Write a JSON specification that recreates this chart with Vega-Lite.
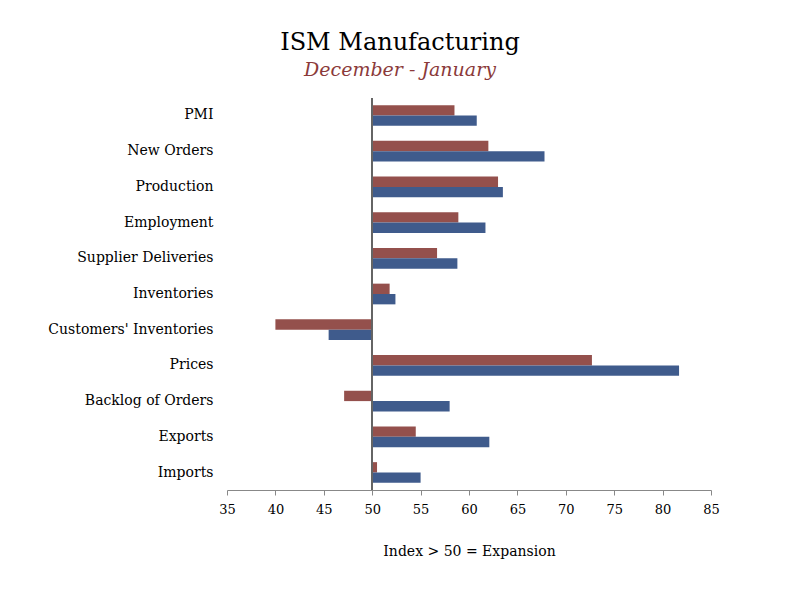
{
"$schema":"https://vega.github.io/schema/vega-lite/v6.json",
"width":484,"height":392,
"autosize":{"type":"none"},
"padding":{"left":227,"top":98,"right":89,"bottom":110},
"background":"white",
"title":{"text":"ISM Manufacturing","subtitle":"December  -  January","font":"DejaVu Serif","fontSize":24,"fontWeight":"normal","color":"#000","subtitleFont":"DejaVu Serif","subtitleFontSize":19,"subtitleFontStyle":"italic","subtitleColor":"#8B3A3A","subtitlePadding":6,"anchor":"middle","dx":-69,"offset":18},
"data":{"values":[
{"cat":"PMI","s":"December","v":58.5},{"cat":"PMI","s":"January","v":60.8},
{"cat":"New Orders","s":"December","v":62.0},{"cat":"New Orders","s":"January","v":67.8},
{"cat":"Production","s":"December","v":63.0},{"cat":"Production","s":"January","v":63.5},
{"cat":"Employment","s":"December","v":58.9},{"cat":"Employment","s":"January","v":61.7},
{"cat":"Supplier Deliveries","s":"December","v":56.7},{"cat":"Supplier Deliveries","s":"January","v":58.8},
{"cat":"Inventories","s":"December","v":51.8},{"cat":"Inventories","s":"January","v":52.4},
{"cat":"Customers' Inventories","s":"December","v":40.0},{"cat":"Customers' Inventories","s":"January","v":45.5},
{"cat":"Prices","s":"December","v":72.7},{"cat":"Prices","s":"January","v":81.7},
{"cat":"Backlog of Orders","s":"December","v":47.1},{"cat":"Backlog of Orders","s":"January","v":58.0},
{"cat":"Exports","s":"December","v":54.5},{"cat":"Exports","s":"January","v":62.1},
{"cat":"Imports","s":"December","v":50.5},{"cat":"Imports","s":"January","v":55.0}
]},
"layer":[
{"mark":{"type":"bar"},
"encoding":{
"y":{"field":"cat","type":"nominal","sort":null,"scale":{"paddingInner":0.42,"paddingOuter":0.2},
"axis":{"title":null,"domain":false,"ticks":false,"labelFont":"DejaVu Serif","labelFontSize":14,"labelColor":"#000","labelPadding":14}},
"yOffset":{"field":"s","type":"nominal","sort":["December","January"]},
"x":{"field":"v","type":"quantitative","scale":{"domain":[35,85],"nice":false,"zero":false},
"axis":{"values":[35,40,45,50,55,60,65,70,75,80,85],"grid":false,"labelFlush":false,"title":"Index > 50 = Expansion","titleFont":"DejaVu Serif","titleFontSize":14,"titleFontWeight":"normal","titleColor":"#000","titlePadding":28,"labelFont":"DejaVu Serif","labelFontSize":13,"labelColor":"#000","domainColor":"#888","tickColor":"#888","labelPadding":8}},
"x2":{"datum":50},
"color":{"field":"s","type":"nominal","scale":{"domain":["December","January"],"range":["#94504C","#3F5B8C"]},"legend":null}
}},
{"mark":{"type":"rule","color":"#666"},"encoding":{"x":{"datum":50}}}
],
"config":{"view":{"stroke":null}}
}
